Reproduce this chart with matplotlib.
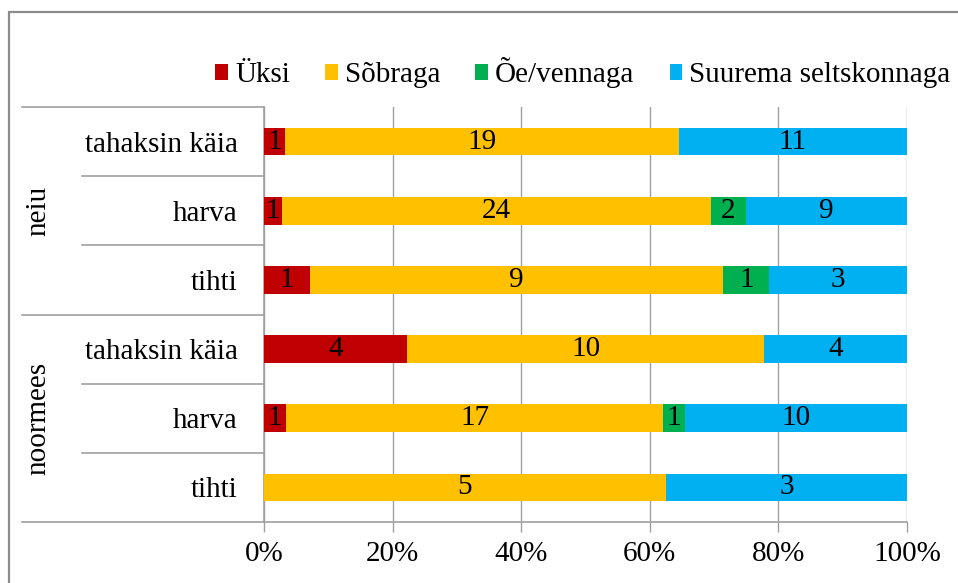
import matplotlib
matplotlib.use("Agg")
import matplotlib.pyplot as plt
from matplotlib.patches import Patch, Rectangle
import matplotlib.transforms as mtransforms
import numpy as np

plt.rcParams['font.family'] = ['Liberation Serif', 'DejaVu Serif']

groups = ["neiu", "noormees"]
categories = ["tahaksin käia", "harva", "tihti", "tahaksin käia", "harva", "tihti"]
series_names = ["Üksi", "Sõbraga", "Õe/vennaga", "Suurema seltskonnaga"]
colors = ["#C00000", "#FFC000", "#00B050", "#00B0F0"]
uksi = [1, 1, 1, 4, 1, 0]
sobraga = [19, 24, 9, 10, 17, 5]
oe_vennaga = [0, 2, 1, 0, 1, 0]
suurema = [11, 9, 3, 4, 10, 3]
xtick_vals = [0, 0.2, 0.4, 0.6, 0.8, 1.0]
xtick_labels = ["0%", "20%", "40%", "60%", "80%", "100%"]

FS = 21
W, H = 958, 583
fig = plt.figure(figsize=(W / 100, H / 100), dpi=100)
fig.patches.append(Rectangle((9 / W, -0.1), 1.2, 1 - 12 / H + 0.1, transform=fig.transFigure,
                             fill=False, edgecolor="#8c8c8c", linewidth=1.6, zorder=0))

ax = fig.add_axes([264 / W, 1 - 522 / H, (907 - 264) / W, (522 - 107) / H])

data = np.array([uksi, sobraga, oe_vennaga, suurema], dtype=float)
totals = data.sum(axis=0)
shares = data / totals
y = np.arange(len(categories)) + 0.5
left = np.zeros(len(categories))
for i, name in enumerate(series_names):
    bars = ax.barh(y, shares[i], left=left, height=0.4, color=colors[i], label=name, zorder=3)
    labels = [str(int(v)) if v > 0 else "" for v in data[i]]
    ax.bar_label(bars, labels=labels, label_type="center", fontsize=FS, color="black")
    left += shares[i]

ax.set_xlim(0, 1)
ax.set_ylim(len(categories), 0)
ax.set_xticks(xtick_vals)
ax.set_xticklabels(xtick_labels, fontsize=FS)
ax.tick_params(axis="x", length=7, width=1, color="#A0A0A0", pad=7)
ax.set_yticks(y)
ax.set_yticklabels(categories, fontsize=FS)
ax.tick_params(axis="y", length=0, pad=19)
ax.grid(axis="x", color="#A0A0A0", linewidth=1, zorder=0)
ax.set_axisbelow(True)
for s in ["top", "right"]:
    ax.spines[s].set_visible(False)
for s in ["left", "bottom"]:
    ax.spines[s].set_color("#A0A0A0")
    ax.spines[s].set_linewidth(1.2)

trans = mtransforms.blended_transform_factory(ax.transAxes, ax.transData)
aw = 907 - 264
gx0 = (22 - 264) / aw
cx0 = (82 - 264) / aw
for yy in [0, 3, 6]:
    ax.plot([gx0, 0], [yy, yy], transform=trans, color="#A0A0A0", lw=1.2, clip_on=False)
for yy in [1, 2, 4, 5]:
    ax.plot([cx0, 0], [yy, yy], transform=trans, color="#A0A0A0", lw=1.2, clip_on=False)

gxl = (38 - 264) / aw
for g, yc in zip(groups, [1.5, 4.5]):
    ax.text(gxl, yc, g, transform=trans, rotation=90, ha="center", va="center", fontsize=FS)

handles = [Patch(facecolor=c, edgecolor="none") for c in colors]
fig.legend(handles, series_names, loc="center", bbox_to_anchor=(583 / W, 1 - 73 / H), ncol=4,
           frameon=False, fontsize=FS, handlelength=0.43, handleheight=0.43,
           handletextpad=0.25, columnspacing=1.2, borderaxespad=0)

fig.savefig("out.png", dpi=100)
